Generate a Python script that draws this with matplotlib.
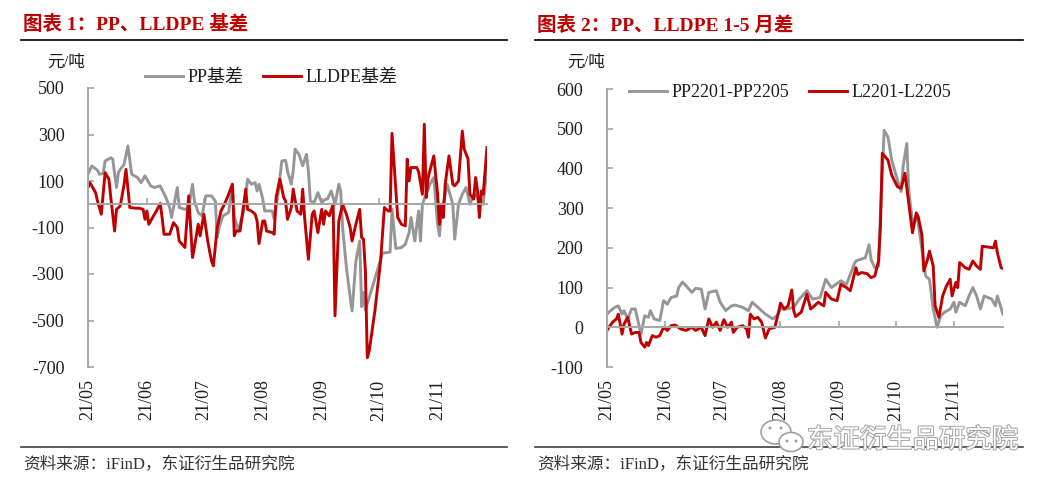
"""PP / LLDPE basis and 1-5 spread, two panels side by side.

Values were read off the reference picture by eye; x positions are
calendar-day offsets from 2021-05-01.
"""
import matplotlib
matplotlib.use('Agg')
import matplotlib.pyplot as plt
import matplotlib.dates as mdates
import matplotlib.patheffects as pe
from matplotlib.lines import Line2D
from matplotlib.patches import Ellipse
import pandas as pd

plt.rcParams['font.family'] = ['Liberation Serif', 'Noto Sans CJK SC']
plt.rcParams['axes.unicode_minus'] = False

START = pd.Timestamp('2021-05-01')
END = pd.Timestamp('2021-11-27')

RED = '#C00000'
GRAY = '#969696'
AXIS_GRAY = '#a6a6a6'
TEXT = '#1e1e1e'

# ---- panel 1: basis (元/吨) ----
pp_basis_day = [
    0, 2, 5, 6, 8, 9, 12, 13, 15, 16,
    17, 19, 21, 23, 26, 28, 30, 33, 35, 38,
    41, 43, 44, 47, 48, 51, 53, 55, 56, 58,
    60, 62, 65, 67, 68, 69, 71, 74, 76, 77,
    79, 82, 84, 86, 88, 89, 90, 92, 93, 95,
    97, 98, 100, 102, 104, 105, 107, 108, 109, 111,
    113, 115, 116, 117, 119, 121, 123, 125, 126, 128,
    130, 132, 133, 134, 136, 138, 139, 141, 143, 144,
    145, 146, 151, 155, 159, 160, 162, 165, 167, 169,
    170, 172, 174, 175, 176, 178, 180, 182, 184, 185,
    186, 188, 189, 192, 193, 195, 197, 199, 201, 203,
    205, 206, 208, 210]
pp_basis = [
    129, 165, 146, 129, 132, 186, 200, 194, 72, 136,
    150, 172, 251, 129, 115, 93, 122, 79, 72, 79,
    29, -14, -57, 72, -14, -22, -14, 86, 14, -36,
    -50, 36, 36, 14, -143, -100, -50, -36, 86, -50,
    -115, -29, 108, 86, 93, 57, 86, 22, -29, -29,
    -29, -65, 43, 186, 189, 143, 86, 143, 237, 215,
    165, 215, 143, 14, 7, 50, 7, 22, 22, 57,
    0, 86, 57, -100, -272, -401, -459, -244, -158, -440,
    -380, -455, -320, -210, -206, -20, -190, -186, -172, -122,
    -57, -158, -29, -158, 0, 43, 86, 115, -86, -136,
    -29, 43, 86, 0, -150, 0, 43, 72, 0, 43,
    29, 14, 0, 158]

lldpe_basis_day = [
    0, 1, 4, 5, 7, 9, 11, 12, 14, 15,
    17, 19, 20, 22, 25, 27, 29, 30, 31, 32,
    34, 36, 38, 39, 40, 43, 45, 47, 48, 51,
    53, 55, 56, 58, 59, 61, 63, 65, 66, 68,
    70, 72, 74, 76, 77, 78, 80, 82, 83, 84,
    86, 88, 89, 90, 92, 93, 94, 97, 98, 99,
    101, 103, 104, 105, 107, 108, 110, 112, 113, 114,
    116, 118, 119, 121, 123, 124, 125, 127, 129, 130,
    132, 134, 136, 138, 139, 141, 143, 144, 145, 146,
    147, 148, 151, 154, 156, 158, 159, 160, 163, 165,
    167, 168, 169, 170, 173, 174, 176, 177, 178, 179,
    182, 184, 185, 186, 187, 188, 190, 192, 193, 195,
    197, 198, 200, 201, 203, 204, 205, 206, 207, 208,
    210]
lldpe_basis = [
    72, 93, 50, 14, -43, 136, 108, 29, -115, -22,
    -7, 86, 150, -14, -17, -17, -22, -65, -29, -86,
    -57, -29, 3, -57, -129, -129, -79, -100, -158, -186,
    36, -229, -186, -86, -136, -43, -158, -244, -265, -100,
    -29, 3, 43, 86, -136, -115, -115, 0, 65, -22,
    -29, -43, -72, -169, -72, -72, -115, -122, -129, 29,
    108, 29, 14, -65, -14, 65, -29, -43, 65, -57,
    -237, -43, -29, -122, -22, -86, -29, -50, 0, -480,
    -72, 0, -43, -100, -158, -86, -22, -143, -150, -287,
    -660, -631, -459, -244, -14, -29, -29, 305, -57, -86,
    -93, 194, 100, 158, 158, 140, 43, 344, 29, 115,
    208, 43, -86, 0, -57, 86, 208, 86, 79, 100,
    315, 237, 195, 43, 22, 115, 60, -57, 57, 43,
    244]

# ---- panel 2: 1-5 spread (元/吨) ----
pp_spread_day = [
    0, 1, 4, 6, 8, 9, 11, 13, 15, 17,
    18, 20, 22, 23, 25, 28, 30, 32, 34, 37,
    38, 40, 42, 45, 47, 50, 52, 54, 58, 60,
    63, 66, 68, 72, 75, 77, 81, 84, 88, 90,
    92, 95, 99, 102, 106, 109, 113, 116, 119, 124,
    127, 131, 132, 137, 139, 140, 142, 144, 145, 147,
    149, 151, 154, 156, 157, 159, 160, 162, 164, 165,
    167, 169, 171, 173, 175, 177, 179, 182, 184, 185,
    187, 190, 192, 194, 196, 198, 200, 204, 206, 207,
    210]
pp_spread = [
    33, 38, 50, 54, 33, 42, 21, 46, 46, 4,
    -17, 29, 25, 42, 21, 17, 67, 58, 75, 79,
    100, 114, 104, 88, 98, 96, 46, 88, 92, 63,
    42, 54, 56, 50, 42, 63, 46, 33, 21, 29,
    46, 46, 50, 71, 92, 71, 75, 121, 100, 117,
    108, 158, 167, 175, 208, 171, 150, 154, 288, 496,
    479, 421, 371, 342, 404, 463, 346, 263, 279, 263,
    196, 129, 121, 46, 0, 29, 38, 46, 63, 38,
    63, 54, 79, 100, 79, 46, 79, 71, 54, 79,
    33]

l_spread_day = [
    0, 1, 3, 5, 6, 8, 9, 11, 13, 15,
    17, 18, 20, 21, 22, 24, 26, 28, 30, 32,
    34, 36, 39, 42, 45, 47, 50, 52, 54, 56,
    58, 60, 62, 64, 66, 67, 69, 72, 74, 75,
    76, 78, 80, 82, 84, 86, 89, 91, 92, 94,
    96, 98, 99, 100, 103, 106, 108, 110, 112, 115,
    116, 119, 122, 124, 127, 129, 132, 133, 135, 138,
    140, 142, 144, 145, 146, 149, 151, 154, 156, 158,
    160, 162, 164, 165, 167, 168, 170, 171, 173, 174,
    176, 178, 180, 182, 183, 185, 186, 187, 190, 192,
    194, 196, 198, 199, 202, 205, 206, 207, 209, 210]
l_spread = [
    -8, 0, 13, 21, 33, -17, 8, 25, -17, -13,
    -13, -38, -50, -38, -46, -21, -25, -21, 0, -8,
    4, 6, -4, -8, 0, -8, 0, -21, 21, 0,
    13, -8, 19, 0, 13, -13, 0, 4, -4, -25,
    33, 21, 25, 13, -27, -4, 0, 38, 61, 46,
    54, 94, 42, 27, 38, 83, 46, 54, 63, 54,
    88, 71, 67, 108, 100, 92, 150, 133, 138, 135,
    125, 129, 167, 254, 438, 421, 383, 354, 350, 388,
    313, 238, 288, 279, 233, 142, 171, 192, 154, 54,
    25, 79, 104, 121, 79, 113, 100, 163, 150, 146,
    167, 154, 146, 204, 202, 200, 217, 188, 150, 148]

W, H = 1053, 487


def fx(px):
    return px / W


def fy(py):
    return 1 - py / H


def to_dates(days):
    return START + pd.to_timedelta(days, unit='D')


def setup_panel(ax, ylim, yticks):
    ax.set_xlim(START, END)
    ax.set_ylim(*ylim)
    ax.set_yticks(yticks)
    for s in ['top', 'right']:
        ax.spines[s].set_visible(False)
    ax.spines['left'].set_color(AXIS_GRAY)
    ax.spines['left'].set_linewidth(1.4)
    ax.spines['bottom'].set_position(('data', 0))
    ax.spines['bottom'].set_color(AXIS_GRAY)
    ax.spines['bottom'].set_linewidth(1.4)
    ax.xaxis.set_major_locator(mdates.MonthLocator())
    ax.tick_params(axis='x', direction='in', length=4, width=1.2,
                   color=AXIS_GRAY, labelbottom=False)
    ax.tick_params(axis='y', direction='in', length=4, width=1.2,
                   color=AXIS_GRAY, labelsize=13, labelcolor=TEXT, pad=17)
    sec = ax.secondary_xaxis('bottom')
    sec.xaxis.set_major_locator(mdates.MonthLocator())
    sec.xaxis.set_major_formatter(mdates.DateFormatter('%y/%m'))
    sec.tick_params(length=0, labelsize=13, labelcolor=TEXT,
                    labelrotation=90, pad=9)
    sec.spines['bottom'].set_visible(False)


fig = plt.figure(figsize=(10.53, 4.87), dpi=100)

ax1 = fig.add_axes([fx(88), fy(367), fx(399), 279 / H])
ax2 = fig.add_axes([fx(607), fy(367), fx(396), 278 / H])

setup_panel(ax1, (-700, 500), range(-700, 501, 200))
setup_panel(ax2, (-100, 600), range(-100, 601, 100))

ax1.plot(to_dates(pp_basis_day), pp_basis, color=GRAY, lw=2.1, label='PP基差')
ax1.plot(to_dates(lldpe_basis_day), lldpe_basis, color=RED, lw=2.1,
         label='LLDPE基差')
ax2.plot(to_dates(pp_spread_day), pp_spread, color=GRAY, lw=2.1,
         label='PP2201-PP2205')
ax2.plot(to_dates(l_spread_day), l_spread, color=RED, lw=2.1,
         label='L2201-L2205')

leg_kw = dict(ncol=2, frameon=False, fontsize=13, handlelength=2.1,
              handletextpad=0.25, columnspacing=1.1, borderpad=0,
              borderaxespad=0, labelcolor=TEXT, loc='center left')
ax1.legend(bbox_to_anchor=(0.143, 1.036), **leg_kw)
ax2.legend(bbox_to_anchor=(0.056, 0.986), **leg_kw)

# unit labels
fig.text(fx(66), fy(63), '元/吨', fontsize=12, color=TEXT,
         ha='center', va='center')
fig.text(fx(586), fy(63), '元/吨', fontsize=12, color=TEXT,
         ha='center', va='center')

# titles, rules, sources
for x0, x1, title in [(21, 507, '图表 1：PP、LLDPE 基差'),
                      (535, 1023, '图表 2：PP、LLDPE 1-5 月差')]:
    fig.text(fx(x0 + 2), fy(25), title, fontsize=14, fontweight='bold',
             color=RED, ha='left', va='center')
    fig.add_artist(Line2D([fx(x0), fx(x1)], [fy(40), fy(40)],
                          color='black', lw=1.2))
    fig.add_artist(Line2D([fx(x0), fx(x1)], [fy(447), fy(447)],
                          color='#404040', lw=1.2))
    fig.text(fx(x0 + 2), fy(465), '资料来源：iFinD，东证衍生品研究院',
             fontsize=12, color='#333333', ha='left', va='center')

# watermark
fig.text(fx(807), fy(440), '东证衍生品研究院', fontsize=19,
         family='Noto Sans CJK SC', color='white', ha='left', va='center',
         path_effects=[pe.withStroke(linewidth=1.4, foreground='#a0a0a0')],
         zorder=10)
for cx, cy, w, h in [(776, 432, 30, 24), (791, 442, 24, 19)]:
    fig.add_artist(Ellipse((fx(cx), fy(cy)), w / W, h / H,
                           transform=fig.transFigure, facecolor='white',
                           edgecolor='#a0a0a0', lw=1.2, zorder=10))
for cx, cy in [(770, 428), (781, 428), (787, 441), (796, 441)]:
    fig.add_artist(Ellipse((fx(cx), fy(cy)), 3 / W, 3 / H,
                           transform=fig.transFigure, facecolor='#a0a0a0',
                           edgecolor='none', zorder=11))

fig.savefig('out.png', dpi=100)
